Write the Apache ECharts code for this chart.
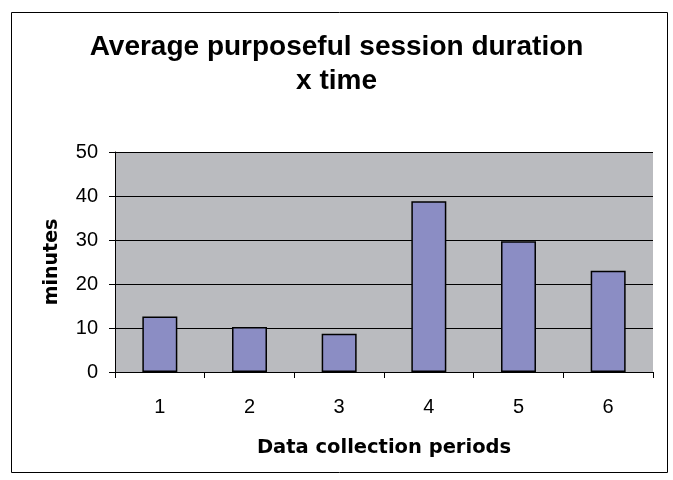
<!DOCTYPE html>
<html>
<head>
<meta charset="utf-8">
<script src="https://cdn.jsdelivr.net/npm/echarts@6/dist/echarts.min.js"></script>
<style>
  html, body { margin: 0; padding: 0; background: #fff; }
  #chart { width: 673px; height: 480px; }
</style>
</head>
<body>
<div id="chart"></div>
<script>
// Collection periods and the average session length per period (minutes)
const periods = ['1', '2', '3', '4', '5', '6'];
const avgMinutes = [12.6, 10.2, 8.7, 38.8, 29.7, 23.0];
const yTicks = { min: 0, max: 50, interval: 10 };

const chart = echarts.init(document.getElementById('chart'), null, { renderer: 'canvas' });
const FONT = '"Liberation Sans", Arial, sans-serif';
const WIDE = '"DejaVu Sans", Verdana, sans-serif';

chart.setOption({
  backgroundColor: '#ffffff',
  animation: false,
  title: {
    text: 'Average purposeful session duration\nx time',
    left: 'center',
    top: 25,
    textStyle: {
      fontFamily: FONT,
      fontSize: 28,
      fontWeight: 'bold',
      color: '#000',
      lineHeight: 34
    }
  },
  graphic: [{
    type: 'rect',
    left: 9,
    top: 10,
    shape: { width: 656, height: 460 },
    style: { fill: 'none', stroke: '#000', lineWidth: 1 },
    silent: true
  }],
  grid: {
    left: 115,
    right: 20,
    top: 152,
    bottom: 108,
    show: true,
    backgroundColor: '#babbbf',
    borderWidth: 0
  },
  xAxis: {
    type: 'category',
    data: periods,
    name: 'Data collection periods',
    nameLocation: 'center',
    nameGap: 66,
    nameTextStyle: { fontFamily: WIDE, fontSize: 19.5, fontWeight: 'bold', color: '#000' },
    axisLine: { show: true, lineStyle: { color: '#000', width: 1 } },
    axisTick: { show: true, alignWithLabel: false, length: 6, lineStyle: { color: '#000' } },
    axisLabel: { fontFamily: FONT, fontSize: 20, color: '#000', margin: 25 },
    splitLine: { show: false }
  },
  yAxis: {
    type: 'value',
    min: yTicks.min,
    max: yTicks.max,
    interval: yTicks.interval,
    name: 'minutes',
    nameLocation: 'center',
    nameGap: 53,
    nameRotate: 90,
    nameTextStyle: { fontFamily: WIDE, fontSize: 19, fontWeight: 'bold', color: '#000' },
    axisLine: { show: true, lineStyle: { color: '#000', width: 1 } },
    axisTick: { show: true, length: 6, lineStyle: { color: '#000' } },
    axisLabel: { fontFamily: FONT, fontSize: 20, color: '#000', margin: 17 },
    splitLine: { show: true, lineStyle: { color: '#000', width: 1 } }
  },
  series: [{
    type: 'bar',
    data: avgMinutes,
    barWidth: '39%',
    itemStyle: { color: '#8b8dc4', borderColor: '#000', borderWidth: 1.5 }
  }]
});
</script>
</body>
</html>
